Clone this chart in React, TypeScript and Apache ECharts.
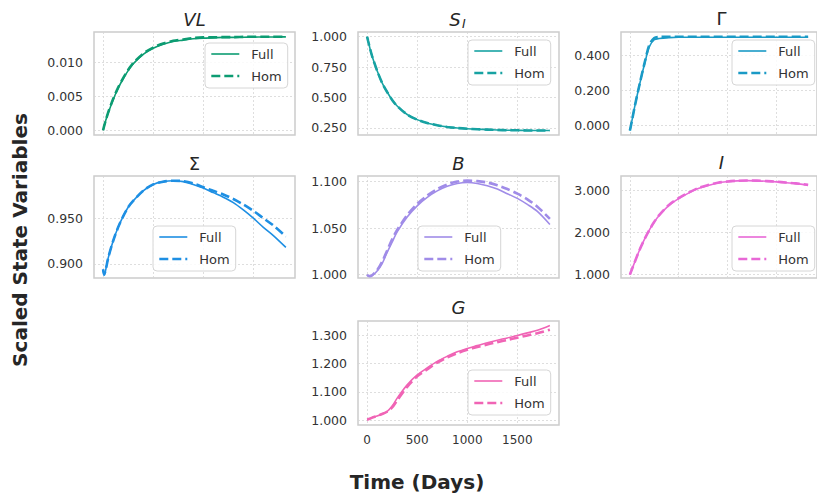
import React, { useEffect, useRef } from "react";
import * as echarts from "echarts";

const T = [0, 10, 25, 50, 100, 150, 200, 250, 300, 400, 500, 600, 700, 800, 900, 1000, 1100, 1200, 1300, 1400, 1500, 1600, 1700, 1825];

const vlFull = [0.0, 0.0006, 0.0014, 0.0025, 0.0045, 0.0062, 0.0076, 0.0088, 0.0098, 0.0112, 0.0121, 0.0127, 0.0131, 0.0133, 0.0135, 0.0136, 0.01365, 0.0137, 0.0137, 0.01373, 0.01375, 0.01376, 0.01377, 0.01378];
const vlHom = [0.0, 0.0006, 0.0014, 0.0026, 0.0046, 0.0063, 0.0077, 0.0089, 0.0099, 0.0113, 0.0122, 0.0128, 0.0132, 0.0134, 0.0136, 0.0137, 0.0137, 0.01375, 0.01375, 0.01378, 0.0138, 0.0138, 0.0138, 0.0138];

const siFull = [1.0, 0.965, 0.915, 0.84, 0.72, 0.62, 0.545, 0.48, 0.43, 0.36, 0.318, 0.29, 0.272, 0.258, 0.249, 0.243, 0.239, 0.236, 0.233, 0.231, 0.23, 0.229, 0.229, 0.228];
const siHom = [1.0, 0.965, 0.915, 0.84, 0.72, 0.62, 0.545, 0.48, 0.43, 0.36, 0.318, 0.29, 0.272, 0.258, 0.249, 0.243, 0.239, 0.236, 0.233, 0.231, 0.23, 0.229, 0.229, 0.228];

const gammaFull = [-0.028, -0.002, 0.04, 0.11, 0.235, 0.35, 0.45, 0.488, 0.495, 0.5, 0.502, 0.502, 0.502, 0.502, 0.502, 0.502, 0.502, 0.502, 0.502, 0.502, 0.502, 0.502, 0.502, 0.502];
const gammaHom = [-0.028, -0.002, 0.04, 0.11, 0.237, 0.355, 0.46, 0.498, 0.504, 0.505, 0.505, 0.505, 0.505, 0.505, 0.505, 0.505, 0.505, 0.505, 0.505, 0.505, 0.505, 0.505, 0.505, 0.505];

const sigmaFull = [0.894, 0.888, 0.893, 0.906, 0.925, 0.94, 0.952, 0.962, 0.969, 0.98, 0.987, 0.99, 0.991, 0.99, 0.987, 0.983, 0.978, 0.973, 0.967, 0.959, 0.95, 0.94, 0.931, 0.918];
const sigmaHom = [0.894, 0.888, 0.893, 0.906, 0.925, 0.94, 0.952, 0.962, 0.969, 0.98, 0.987, 0.99, 0.991, 0.9905, 0.988, 0.984, 0.98, 0.976, 0.971, 0.965, 0.958, 0.95, 0.942, 0.93];

const bFull = [1.0, 0.999, 0.9985, 0.999, 1.004, 1.012, 1.024, 1.035, 1.046, 1.062, 1.074, 1.083, 1.09, 1.095, 1.098, 1.099, 1.098, 1.0955, 1.092, 1.087, 1.082, 1.0755, 1.068, 1.054];
const bHom = [1.0, 0.999, 0.9985, 0.9995, 1.005, 1.014, 1.026, 1.038, 1.048, 1.064, 1.076, 1.085, 1.092, 1.097, 1.1, 1.101, 1.1005, 1.099, 1.096, 1.092, 1.087, 1.081, 1.073, 1.06];

const iFull = [1.0, 1.06, 1.15, 1.3, 1.59, 1.84, 2.06, 2.25, 2.4, 2.64, 2.8, 2.93, 3.04, 3.11, 3.17, 3.2, 3.22, 3.225, 3.22, 3.21, 3.195, 3.175, 3.155, 3.12];
const iHom = [1.0, 1.06, 1.15, 1.3, 1.59, 1.84, 2.06, 2.25, 2.41, 2.65, 2.81, 2.94, 3.05, 3.12, 3.175, 3.205, 3.222, 3.228, 3.225, 3.214, 3.2, 3.18, 3.16, 3.125];

const gFull = [1.002, 1.003, 1.005, 1.009, 1.015, 1.022, 1.031, 1.05, 1.078, 1.125, 1.16, 1.185, 1.208, 1.226, 1.242, 1.254, 1.264, 1.274, 1.283, 1.291, 1.3, 1.309, 1.318, 1.335];
const gHom = [1.002, 1.003, 1.005, 1.009, 1.015, 1.022, 1.03, 1.045, 1.07, 1.118, 1.155, 1.18, 1.204, 1.222, 1.237, 1.249, 1.259, 1.268, 1.276, 1.284, 1.292, 1.3, 1.308, 1.32];

const xTicks = [0, 500, 1000, 1500];
const vlTicks = [0, 0.005, 0.01];
const siTicks = [0.25, 0.5, 0.75, 1.0];
const gammaTicks = [0, 0.2, 0.4];
const sigmaTicks = [0.9, 0.95];
const bTicks = [1.0, 1.05, 1.1];
const iTicks = [1, 2, 3];
const gTicks = [1.0, 1.1, 1.2, 1.3];

const FONT = "DejaVu Sans";

type Panel = {
  key: string;
  full: number[];
  hom: number[];
  ticks: number[];
  color: string;
  left: number;
  top: number;
  height: number;
  ymin: number;
  ymax: number;
  legendLeft: number;
  legendTop: number;
  showX: boolean;
};

const panels: Panel[] = [
  { key: "VL", full: vlFull, hom: vlHom, ticks: vlTicks, color: "#0c9c72", left: 94, top: 32, height: 103, ymin: -0.0007, ymax: 0.0145, legendLeft: 205, legendTop: 43, showX: false },
  { key: "SI", full: siFull, hom: siHom, ticks: siTicks, color: "#17a2a2", left: 358, top: 32, height: 103, ymin: 0.1915, ymax: 1.0385, legendLeft: 468, legendTop: 40, showX: false },
  { key: "Gamma", full: gammaFull, hom: gammaHom, ticks: gammaTicks, color: "#1a9ac6", left: 621, top: 32, height: 103, ymin: -0.053, ymax: 0.532, legendLeft: 732, legendTop: 40, showX: false },
  { key: "Sigma", full: sigmaFull, hom: sigmaHom, ticks: sigmaTicks, color: "#1e8fe3", left: 94, top: 176, height: 102, ymin: 0.8845, ymax: 0.9962, legendLeft: 153, legendTop: 226, showX: false },
  { key: "B", full: bFull, hom: bHom, ticks: bTicks, color: "#a08ce8", left: 358, top: 176, height: 102, ymin: 0.9965, ymax: 1.106, legendLeft: 418, legendTop: 226, showX: false },
  { key: "I", full: iFull, hom: iHom, ticks: iTicks, color: "#e868d6", left: 621, top: 176, height: 102, ymin: 0.92, ymax: 3.335, legendLeft: 732, legendTop: 226, showX: false },
  { key: "G", full: gFull, hom: gHom, ticks: gTicks, color: "#f064b5", left: 358, top: 321, height: 104, ymin: 0.983, ymax: 1.351, legendLeft: 468, legendTop: 370, showX: true },
];

const PANEL_W = 201;

export default function App() {
  const ref = useRef<HTMLDivElement>(null);
  useEffect(() => {
    if (!ref.current) return;
    const chart = echarts.init(ref.current, undefined, { renderer: "svg" });
    const grids: any[] = [];
    const xAxes: any[] = [];
    const yAxes: any[] = [];
    const series: any[] = [];
    const legends: any[] = [];
    const hiddenSymbol = { color: "rgba(0,0,0,0)", borderColor: "rgba(0,0,0,0)", borderWidth: 0, opacity: 0 };
    panels.forEach((p, i) => {
      grids.push({
        left: p.left,
        top: p.top,
        width: PANEL_W,
        height: p.height,
        show: true,
        borderColor: "#cccccc",
        borderWidth: 1.5,
        backgroundColor: "#ffffff",
      });
      xAxes.push({
        type: "value",
        gridIndex: i,
        min: -91,
        max: 1916,
        axisLine: { show: false },
        axisTick: { show: false, customValues: xTicks },
        axisLabel: {
          show: p.showX,
          customValues: xTicks,
          fontFamily: FONT,
          fontSize: 12,
          color: "#333333",
          margin: 9,
          formatter: (v: number) => String(Math.round(v)),
        },
        splitLine: { show: true, lineStyle: { color: "#d5d5d5", width: 0.8, type: [2, 2] } },
      });
      yAxes.push({
        type: "value",
        gridIndex: i,
        min: p.ymin,
        max: p.ymax,
        axisLine: { show: false },
        axisTick: { show: false, customValues: p.ticks },
        axisLabel: {
          customValues: p.ticks,
          fontFamily: FONT,
          fontSize: 12.5,
          color: "#333333",
          margin: 11,
          formatter: (v: number) => v.toFixed(3),
        },
        splitLine: { show: true, lineStyle: { color: "#d5d5d5", width: 0.8, type: [2, 2] } },
      });
      const fullName = p.key + "|Full";
      const homName = p.key + "|Hom";
      series.push({
        type: "line",
        name: fullName,
        xAxisIndex: i,
        yAxisIndex: i,
        data: T.map((t, j) => [t, p.full[j]]),
        symbol: "none",
        smooth: 0.3,
        color: p.color,
        lineStyle: { color: p.color, width: 1.6 },
        z: 2,
      });
      series.push({
        type: "line",
        name: homName,
        xAxisIndex: i,
        yAxisIndex: i,
        data: T.map((t, j) => [t, p.hom[j]]),
        symbol: "none",
        smooth: 0.3,
        color: p.color,
        lineStyle: { color: p.color, width: 2.6, type: [9, 4] },
        z: 3,
      });
      legends.push({
        left: p.legendLeft,
        top: p.legendTop,
        orient: "vertical",
        selectedMode: false,
        backgroundColor: "rgba(255,255,255,0.85)",
        borderColor: "#d6d6d6",
        borderWidth: 1,
        borderRadius: 4,
        padding: [4, 6, 5, 5],
        itemWidth: 28,
        itemHeight: 14,
        itemGap: 8,
        itemStyle: hiddenSymbol,
        data: [
          { name: fullName, itemStyle: hiddenSymbol, lineStyle: { color: p.color, width: 1.6, type: "solid" } },
          { name: homName, itemStyle: hiddenSymbol, lineStyle: { color: p.color, width: 2.6, type: [9, 4] } },
        ],
        formatter: (name: string) => (name.endsWith("Hom") ? "Hom" : "Full"),
        textStyle: { fontFamily: FONT, fontSize: 13, color: "#333333", padding: [0, 0, 0, 7], lineHeight: 14 },
      });
    });

    const titleStyle = (text: string, x: number, y: number, italic: boolean, size = 18) => ({
      type: "text",
      x,
      y,
      style: {
        text,
        align: "center",
        verticalAlign: "middle",
        fontFamily: FONT,
        fontSize: size,
        fontStyle: italic ? "italic" : "normal",
        fill: "#262626",
      },
    });

    const graphic: any[] = [
      titleStyle("VL", 94 + 100.5, 19, true),
      titleStyle("S", 455, 19, true),
      {
        type: "text",
        x: 462,
        y: 23,
        style: { text: "I", align: "left", verticalAlign: "middle", fontFamily: FONT, fontSize: 12.5, fontStyle: "italic", fill: "#262626" },
      },
      titleStyle("Γ", 621 + 100.5, 18, false),
      titleStyle("Σ", 94 + 100.5, 163, false),
      titleStyle("B", 358 + 100.5, 163, true),
      titleStyle("I", 621 + 100.5, 162, true),
      titleStyle("G", 358 + 100.5, 307, true),
      {
        type: "text",
        x: 20,
        y: 240,
        rotation: Math.PI / 2,
        style: {
          text: "Scaled State Variables",
          align: "center",
          verticalAlign: "middle",
          fontFamily: FONT,
          fontSize: 20,
          fontWeight: "bold",
          fill: "#262626",
        },
      },
      {
        type: "text",
        x: 417,
        y: 482,
        style: {
          text: "Time (Days)",
          align: "center",
          verticalAlign: "middle",
          fontFamily: FONT,
          fontSize: 20,
          fontWeight: "bold",
          fill: "#262626",
        },
      },
    ];

    chart.setOption({
      animation: false,
      backgroundColor: "#ffffff",
      grid: grids,
      xAxis: xAxes,
      yAxis: yAxes,
      series,
      legend: legends,
      graphic,
    });
    return () => chart.dispose();
  }, []);
  return (
    <div
      ref={ref}
      style={{ position: "fixed", left: 0, top: 0, width: 817, height: 495 }}
    />
  );
}
